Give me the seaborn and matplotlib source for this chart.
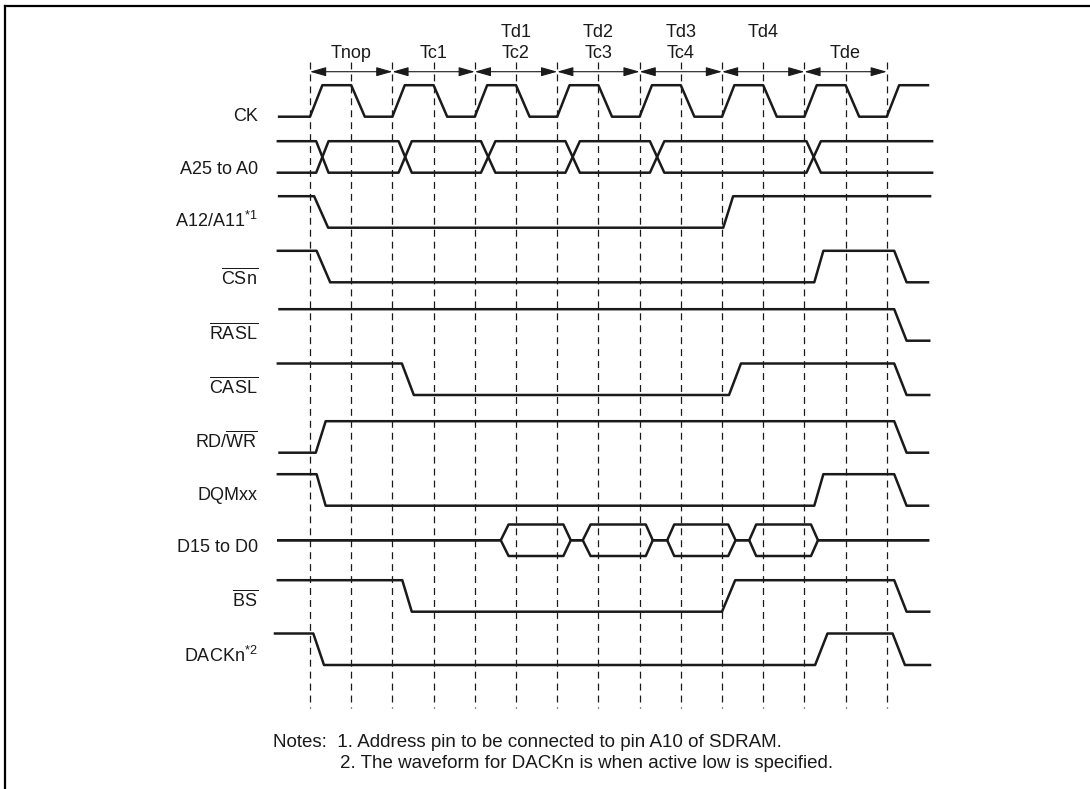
import matplotlib
matplotlib.use("Agg")
import matplotlib.pyplot as plt
from matplotlib.lines import Line2D
import pandas as pd
import seaborn as sns

# --- datos del diagrama (tiempo en medios ciclos de CK) ---
signal_labels = ["CK", "A25 to A0", r"A12/A11$^{\mathrm{*1}}$", r"$\overline{\mathrm{CSn}}$",
                 r"$\overline{\mathrm{RASL}}$", r"$\overline{\mathrm{CASL}}$",
                 r"RD/$\overline{\mathrm{WR}}$", "DQMxx", "D15 to D0",
                 r"$\overline{\mathrm{BS}}$", r"DACKn$^{\mathrm{*2}}$"]

# señales digitales: (inicio, nivel inicial, flancos (desde, hasta), fin)
ck = (-0.75, 0, [(0, 0.3), (1, 1.33), (2, 2.3), (3, 3.33), (4, 4.3), (5, 5.33),
                 (6, 6.3), (7, 7.33), (8, 8.3), (9, 9.33), (10, 10.3), (11, 11.33),
                 (12, 12.3), (13, 13.33), (14, 14.3)], 15.0)
a12 = (-0.75, 1, [(0.1, 0.44), (10.03, 10.27)], 15.05)
csn = (-0.78, 1, [(0.16, 0.49), (12.24, 12.46), (14.18, 14.48)], 15.0)
rasl = (-0.74, 1, [(14.18, 14.48)], 15.03)
casl = (-0.78, 1, [(2.23, 2.52), (10.17, 10.46), (14.18, 14.48)], 15.03)
rdwr = (-0.74, 0, [(0.14, 0.38), (14.18, 14.48)], 15.0)
dqm = (-0.78, 1, [(0.16, 0.38), (12.24, 12.46), (14.18, 14.48)], 15.0)
bs = (-0.78, 1, [(2.24, 2.47), (10.0, 10.32), (14.18, 14.48)], 15.03)
dack = (-0.85, 1, [(0.08, 0.34), (12.26, 12.56), (14.14, 14.44)], 15.05)

# bus de direcciones: cruces (desde, hasta)
addr_bus = (-0.78, [(0.15, 0.45), (2.15, 2.47), (4.15, 4.5), (6.2, 6.55),
                    (8.25, 8.6), (12.05, 12.4)], 15.1)
# bus de datos: ventanas válidas (abre, abierto, cierra, cerrado)
data_bus = (-0.77, [(4.63, 4.82, 6.15, 6.33), (6.62, 6.81, 8.15, 8.32),
                    (8.67, 8.84, 10.15, 10.33), (10.66, 10.83, 12.16, 12.33)], 15.0)

cycle_bounds = [0, 2, 4, 6, 8, 10, 12, 14]
cycle_top = ["", "", "Td1", "Td2", "Td3", "Td4", ""]
cycle_bottom = ["Tnop", "Tc1", "Tc2", "Tc3", "Tc4", "", "Tde"]
dash_times = list(range(15))

notes = ["Notes:  1. Address pin to be connected to pin A10 of SDRAM.",
         "2. The waveform for DACKn is when active low is specified."]

# --- maquetación (píxeles) ---
x0, step = 310, 41.2
row_low = [116.7, 172.7, 227.7, 282.3, 340.7, 395, 452.7, 505.7, 556, 611.7, 665]
label_base = [121, 174, 227, 284, 339, 393, 448, 500, 552, 606, 662]
amp = 31.5
ink = "#1a1a1a"
fs = 13

plt.rcParams["font.family"] = ["Liberation Sans", "DejaVu Sans"]
plt.rcParams["mathtext.fontset"] = "custom"
plt.rcParams["mathtext.rm"] = "Liberation Sans"
plt.rcParams["mathtext.it"] = "Liberation Sans:italic"
plt.rcParams["lines.scale_dashes"] = False


def digital(sig, low):
    start, lev, edges, end = sig
    xs, ys = [start], [lev]
    for a, b in edges:
        xs += [a, b]
        ys += [lev, 1 - lev]
        lev = 1 - lev
    xs.append(end)
    ys.append(lev)
    return xs, [low - amp * v for v in ys]


rows = []


def add(name, xs, ys):
    for x, y in zip(xs, ys):
        rows.append({"seg": name, "t": x, "y": y})


for i, sig in [(0, ck), (2, a12), (3, csn), (4, rasl), (5, casl), (6, rdwr),
               (7, dqm), (9, bs), (10, dack)]:
    xs, ys = digital(sig, row_low[i])
    add(f"s{i}", xs, ys)

# bus A25..A0: dos trazos cruzados
start, cross, end = addr_bus
for k, lev in enumerate([1, 0]):
    xs, ys = digital((start, lev, cross, end), row_low[1])
    add(f"addr{k}", xs, ys)

# bus D15..D0
start, wins, end = data_bus
mid = row_low[8] - amp / 2
for k, sgn in enumerate([1, -1]):
    xs, ys = [start], [mid]
    for o1, o2, c1, c2 in wins:
        xs += [o1, o2, c1, c2]
        ys += [mid, mid - sgn * amp / 2, mid - sgn * amp / 2, mid]
    xs.append(end)
    ys.append(mid)
    add(f"data{k}", xs, ys)

df = pd.DataFrame(rows)

fig = plt.figure(figsize=(10.9, 7.89), dpi=100)
ax = fig.add_axes([0, 0, 1, 1])
sns.lineplot(data=df, x="t", y="y", units="seg", estimator=None, sort=False,
             color=ink, linewidth=1.8, ax=ax)

# líneas de referencia discontinuas
for t in dash_times:
    ax.plot([t, t], [62, 708], color=ink, lw=0.9, linestyle=(0, (5, 3.6)))

# flechas de ciclos y etiquetas
for j in range(len(cycle_bounds) - 1):
    a, b = cycle_bounds[j], cycle_bounds[j + 1]
    ax.annotate("", xy=(b, 71.7), xytext=(a, 71.7),
                arrowprops=dict(arrowstyle="<|-|>,head_length=0.7,head_width=0.2",
                                color=ink, lw=0.8, shrinkA=0, shrinkB=0,
                                mutation_scale=14))
    c = (a + b) / 2
    if cycle_top[j]:
        ax.text(c, 32.5, cycle_top[j], ha="center", va="center", fontsize=fs, color=ink)
    if cycle_bottom[j]:
        ax.text(c, 53.5, cycle_bottom[j], ha="center", va="center", fontsize=fs, color=ink)

# nombres de señales
for lab, yb in zip(signal_labels, label_base):
    ax.text((258 - x0) / step, yb, lab, ha="right", va="baseline", fontsize=fs, color=ink)

ax.text((273 - x0) / step, 747, notes[0], ha="left", va="baseline", fontsize=13.5, color=ink)
ax.text((340 - x0) / step, 768, notes[1], ha="left", va="baseline", fontsize=13.5, color=ink)

ax.set_xlim(-x0 / step, (1090 - x0) / step)
ax.set_ylim(789, 0)
ax.axis("off")

# marco (solo bordes superior e izquierdo visibles)
fig.add_artist(Line2D([5 / 1090, 5 / 1090], [0, 1 - 6 / 789], transform=fig.transFigure,
                      color="black", lw=1.6))
fig.add_artist(Line2D([5 / 1090, 1], [1 - 6 / 789, 1 - 6 / 789], transform=fig.transFigure,
                      color="black", lw=1.6))

fig.savefig("out.png", dpi=100)
